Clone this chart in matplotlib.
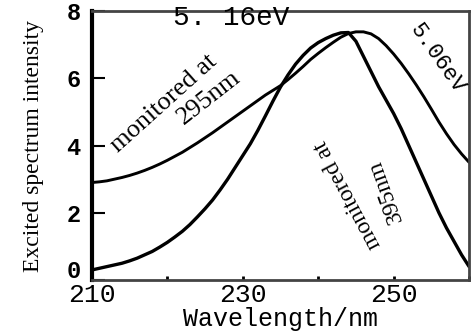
import matplotlib
matplotlib.use("Agg")
import matplotlib.pyplot as plt
import matplotlib.transforms as mtransforms

# Wavelength grid (nm) shared by both excitation spectra
wavelength = list(range(210, 261))

# Excitation spectrum monitored at 395 nm (narrow band)
int_395 = [0.30, 0.35, 0.40, 0.45, 0.50, 0.57, 0.65, 0.75, 0.85, 0.98,
           1.12, 1.28, 1.45, 1.65, 1.88, 2.12, 2.38, 2.68, 3.00, 3.35,
           3.70, 4.05, 4.45, 4.88, 5.32, 5.74, 6.10, 6.42, 6.68, 6.90,
           7.06, 7.18, 7.28, 7.35, 7.36, 7.10, 6.65, 6.20, 5.75, 5.35,
           4.95, 4.50, 4.00, 3.50, 3.00, 2.50, 2.00, 1.55, 1.15, 0.75,
           0.40]

# Excitation spectrum monitored at 295 nm (broad band)
int_295 = [2.90, 2.92, 2.95, 3.00, 3.05, 3.11, 3.18, 3.26, 3.35, 3.45,
           3.56, 3.68, 3.80, 3.94, 4.08, 4.23, 4.38, 4.54, 4.70, 4.86,
           5.02, 5.18, 5.34, 5.50, 5.64, 5.78, 5.96, 6.15, 6.35, 6.56,
           6.74, 6.91, 7.07, 7.22, 7.33, 7.38, 7.38, 7.32, 7.18, 6.97,
           6.72, 6.44, 6.13, 5.80, 5.45, 5.08, 4.70, 4.35, 4.03, 3.75,
           3.50]

x_major = [210, 230, 250]
x_minor = [220, 240, 260]
y_ticks = [0, 2, 4, 6, 8]

fig = plt.figure(figsize=(4.71, 3.33), dpi=100)
ax = fig.add_axes([0.195, 0.159, 0.801, 0.808])

ax.plot(wavelength, int_395, color="black", lw=2.4, solid_capstyle="round",
        solid_joinstyle="round")
ax.plot(wavelength, int_295, color="black", lw=2.1, solid_capstyle="round",
        solid_joinstyle="round")

ax.set_xlim(210, 260)
ax.set_ylim(0, 8)

mono = "Liberation Mono"
serif = "Liberation Serif"
ax.set_xticks(x_major)
ax.set_xticks(x_minor, minor=True)
ax.set_xticklabels([str(v) for v in x_major], fontfamily=mono, fontsize=19)
ax.set_yticks(y_ticks)
ax.set_yticklabels([str(v) for v in y_ticks], fontfamily=mono, fontsize=17,
                   fontweight="bold")
ax.tick_params(axis="x", which="both", direction="in", length=3, width=2, pad=2)
ax.tick_params(axis="y", direction="in", length=9, width=1.5, pad=8)

# lift the "0" label so it sits clear of the "210" label
zero_label = ax.get_yticklabels()[0]
zero_label.set_transform(zero_label.get_transform() +
                         mtransforms.ScaledTranslation(0, 8 / 72, fig.dpi_scale_trans))

for side in ["top", "right", "bottom"]:
    ax.spines[side].set_linewidth(2.0)
    ax.spines[side].set_color("#444444")
ax.spines["left"].set_linewidth(3.0)

ax.set_xlabel("Wavelength/nm", fontfamily=mono, fontsize=18, labelpad=0)
ax.set_ylabel("Excited spectrum intensity", fontfamily=serif,
              fontsize=17, labelpad=16)

ax.text(228.5, 7.8, "5. 16eV", fontfamily=mono, fontsize=20, ha="center", va="center")
ax.text(255.8, 6.57, "5.06eV", fontfamily=mono, fontsize=16, ha="center", va="center",
        rotation=-55, rotation_mode="anchor")

# Curve annotations, one text per line
ax.text(219.5, 5.25, "monitored at", fontfamily=serif, fontsize=19,
        ha="center", va="center", rotation=42, rotation_mode="anchor")
ax.text(225.6, 5.43, "295nm", fontfamily=serif, fontsize=19,
        ha="center", va="center", rotation=38, rotation_mode="anchor")
ax.text(243.95, 2.54, "monitored at", fontfamily=serif, fontsize=17,
        ha="center", va="center", rotation=118, rotation_mode="anchor")
ax.text(248.9, 2.63, "395nm", fontfamily=serif, fontsize=17,
        ha="center", va="center", rotation=110, rotation_mode="anchor")

fig.savefig("out.png", dpi=100)
